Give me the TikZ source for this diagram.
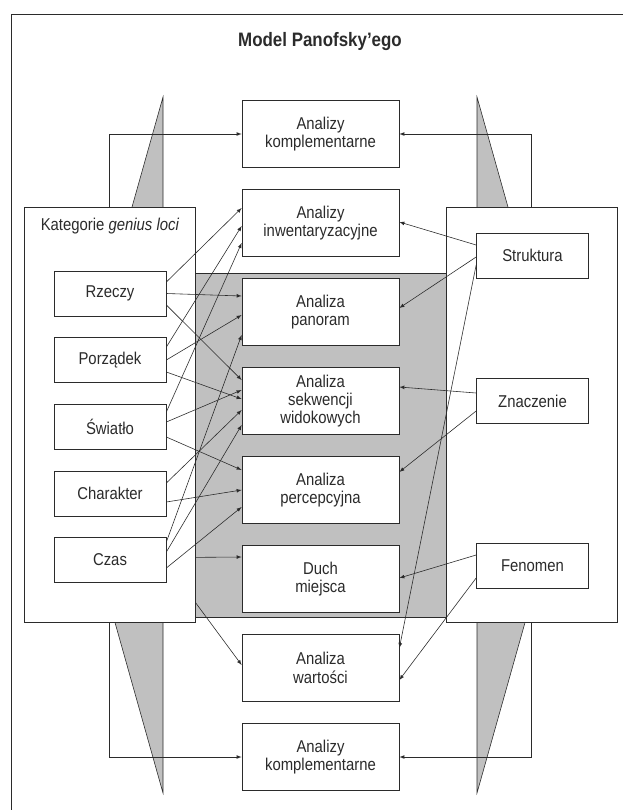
\documentclass[tikz,border=0pt]{standalone}
\usepackage{fontspec}
\setmainfont{Liberation Sans}[FakeStretch=0.87]
\usepackage{tikz}
\usetikzlibrary{arrows,calc}
\definecolor{panofsky1}{HTML}{C0C0C0}
\definecolor{panofsky2}{HTML}{2B2B2B}

\begin{document}
\begin{tikzpicture}[x=0.03cm, y=-0.03cm, line width=0.5, >=latex, color=panofsky2,
		font=\fontsize{14.6}{15.6}\selectfont,
		box/.style={draw, fill=white, line width=0.6, align=center, inner sep=0},
		kat/.style={box, minimum width=3.36cm, minimum height=1.35cm},
		ana/.style={box, minimum width=4.71cm, minimum height=2.01cm},
		duzy/.style={box, minimum width=5.13cm, minimum height=12.45cm}]
		\useasboundingbox (0,0) rectangle (623,810);
		\draw[line width=0.7] (11,810) -- (11,14) -- (623,14);
		\node[font=\fontsize{16.6}{18}\selectfont\bfseries] (tytul) at (320,42) {Model Panofsky’ego};
		\draw[fill=panofsky1] (163,97) -- (65,445) -- (163,793) -- cycle;
		\draw[fill=panofsky1] (477,97) -- (575,445) -- (477,793) -- cycle;
		\draw[fill=panofsky1, line width=0.6] (194,273) rectangle (447,617);
		\node[duzy] (genius) at (109.5,414.5) {};
		\node[duzy] (prawy) at (531.5,414.5) {};
		\node (napis) at (110,226) {Kategorie \textit{genius loci}};
		\node[ana] (kompA) at (320.5,134) {Analizy\\komplementarne};
		\node[ana] (inwent) at (320.5,223) {Analizy\\inwentaryzacyjne};
		\node[ana] (panoram) at (320.5,312) {Analiza\\panoram};
		\node[ana] (sekw) at (320.5,401) {Analiza\\sekwencji\\widokowych};
		\node[ana] (percep) at (320.5,490) {Analiza\\percepcyjna};
		\node[ana] (duch) at (320.5,579) {Duch\\miejsca};
		\node[ana] (wartosci) at (320.5,668) {Analiza\\wartości};
		\node[ana] (kompB) at (320.5,757) {Analizy\\komplementarne};
		\node[kat] (rzeczy) at (110,293.5) {Rzeczy};
		\node[kat] (porzadek) at (110,360) {Porządek};
		\node[kat] (swiatlo) at (110,426.5) {Światło};
		\node[kat] (charakter) at (110,493.5) {Charakter};
		\node[kat] (czas) at (110,560) {Czas};
		\node[kat] (struktura) at (532.5,255.5) {Struktura};
		\node[kat] (znaczenie) at (532.5,401) {Znaczenie};
		\node[kat] (fenomen) at (532.5,565.5) {Fenomen};
		\draw[->] (genius.north) |- (kompA.west);
		\draw[->] (prawy.north) |- (kompA.east);
		\draw[->] (genius.south) |- (kompB.west);
		\draw[->] (prawy.south) |- (kompB.east);
		\draw[->] ($(rzeczy.east)+(0,-11.5)$) -- ($(inwent.west)+(0,-15)$);
		\draw[->] (rzeczy.east) -- ($(panoram.west)+(0,-16)$);
		\draw[->] ($(rzeczy.east)+(0,11.5)$) -- ($(sekw.west)+(0,-21)$);
		\draw[->] ($(porzadek.east)+(0,-13)$) -- ($(inwent.west)+(0,3)$);
		\draw[->] (porzadek.east) -- ($(panoram.west)+(0,3)$);
		\draw[->] ($(porzadek.east)+(0,12)$) -- ($(sekw.west)+(0,-2)$);
		\draw[->] ($(swiatlo.east)+(0,-14.5)$) -- ($(inwent.west)+(0,20)$);
		\draw[->] ($(swiatlo.east)+(0,-4.5)$) -- ($(sekw.west)+(0,-11)$);
		\draw[->] ($(swiatlo.east)+(0,10.5)$) -- ($(percep.west)+(0,-20)$);
		\draw[->] ($(charakter.east)+(0,-10.5)$) -- ($(sekw.west)+(0,9)$);
		\draw[->] ($(charakter.east)+(0,8.5)$) -- (percep.west);
		\draw[->] ($(czas.east)+(0,-18)$) -- ($(panoram.west)+(0,23)$);
		\draw[->] ($(czas.east)+(0,-8)$) -- ($(sekw.west)+(0,24)$);
		\draw[->] ($(czas.east)+(0,8)$) -- ($(percep.west)+(0,17)$);
		\draw[->] ($(genius.south east)+(0,-65)$) -- ($(duch.west)+(0,-22)$);
		\draw[->] ($(genius.south east)+(0,-20)$) -- ($(wartosci.west)+(0,-3)$);
		\draw[->] ($(struktura.west)+(0,-10.5)$) -- ($(inwent.east)+(0,-1)$);
		\draw[->] ($(struktura.west)+(0,1.5)$) -- ($(panoram.east)+(0,-4)$);
		\draw[->] ($(struktura.west)+(0,9.5)$) -- ($(wartosci.east)+(0,-20)$);
		\draw[->] ($(znaczenie.west)+(0,-8)$) -- ($(sekw.east)+(0,-14)$);
		\draw[->] ($(znaczenie.west)+(0,10)$) -- ($(percep.east)+(0,-18)$);
		\draw[->] ($(fenomen.west)+(0,-10.5)$) -- ($(duch.east)+(0,-1)$);
		\draw[->] ($(fenomen.west)+(0,12.5)$) -- ($(wartosci.east)+(0,12)$);
	\end{tikzpicture}
\end{document}
